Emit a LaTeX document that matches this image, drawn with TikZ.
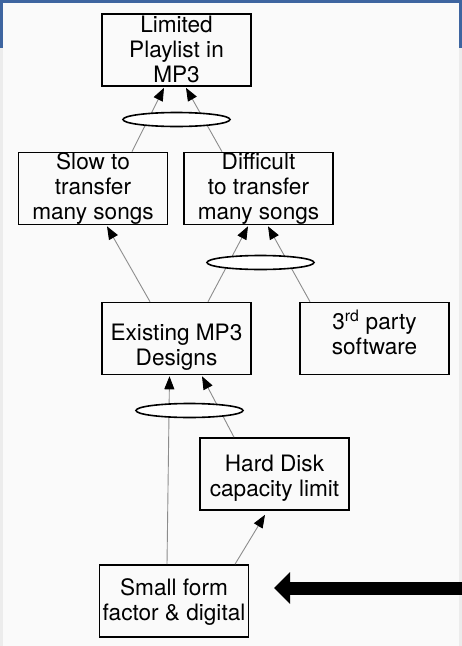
\documentclass[tikz,border=0pt]{standalone}
\usepackage{fontspec}
\setmainfont{TeX Gyre Heros}
\usetikzlibrary{shapes.geometric,calc,arrows.meta}
\definecolor{frameblue}{RGB}{62,101,160}
\definecolor{framegray}{RGB}{236,236,236}
\begin{document}
\begin{tikzpicture}[x=1pt,y=-1pt]
\tikzset{blk/.style = {draw, line width=1.6pt, minimum width=149pt, minimum height=72pt, inner sep=0pt},
  txt/.style = {align=center, inner sep=0pt, font=\fontsize{22.6}{25}\selectfont},
  andnode/.style = {draw, ellipse, fill=white, line width=1.6pt, minimum width=107pt, minimum height=14pt, inner sep=0pt},
  con/.style = {draw=black!45, line width=0.9pt, -{Triangle[length=13pt,width=10pt,color=black]}}}
\useasboundingbox (0,0) rectangle (462,646);
\fill[white!98!black] (0,0) rectangle (462,646);
\fill[framegray] (0,0) rectangle (3,646);
\fill[framegray] (459,0) rectangle (462,646);
\fill[frameblue] (0,0) rectangle (462,3);
\fill[frameblue] (0,0) rectangle (3,48);
\fill[frameblue] (459,0) rectangle (462,48);

\node[blk] (top) at (176.5,50) {};
\node[txt] (top-t) at ([yshift=1pt]top.center) {Limited\\Playlist in\\MP3};
\node[blk] (slow) at (93,188.5) {};
\node[txt] (slow-t) at (slow.center) {Slow to\\transfer\\many songs};
\node[blk] (diff) at (258.5,188.5) {};
\node[txt] (diff-t) at (diff.center) {Difficult\\to transfer\\many songs};
\node[blk] (exist) at (176.5,338.5) {};
\node[txt] (exist-t) at ([yshift=-9pt]exist.center) {Existing MP3\\Designs};
\node[blk] (third) at (374.5,338.5) {};
\node[txt] (third-t) at ([yshift=6pt]third.center) {3\textsuperscript{rd} party\\software};
\node[blk] (hard) at (274.5,474) {};
\node[txt] (hard-t) at ([yshift=-4pt]hard.center) {Hard Disk\\capacity limit};
\node[blk] (small) at (174,601) {};
\node[txt] (small-t) at ([yshift=-1pt]small.center) {Small form\\factor \& digital};

\draw[con] ([xshift=39pt]slow.north) -- ([xshift=-12.5pt,yshift=-1pt]top.south);
\draw[con] ([xshift=-36.5pt]diff.north) -- ([xshift=9.5pt,yshift=-1pt]top.south);
\draw[con] ([xshift=-26.5pt]exist.north) -- ([xshift=14pt,yshift=-1pt]slow.south);
\draw[con] ([xshift=31.5pt]exist.north) -- ([xshift=-10.5pt,yshift=-1pt]diff.south);
\draw[con] ([xshift=-64.5pt]third.north) -- ([xshift=9.5pt,yshift=-1pt]diff.south);
\draw[con] ([xshift=-7pt]small.north) -- ([xshift=-7pt,yshift=-1pt]exist.south);
\draw[con] ([xshift=-40.5pt]hard.north) -- ([xshift=25.5pt,yshift=-1pt]exist.south);
\draw[con] ([xshift=61pt]small.north) -- ([xshift=-9.5pt,yshift=-4pt]hard.south);

\node[andnode] (and1) at (176.5,119.5) {};
\node[andnode] (and2) at (260.5,262.5) {};
\node[andnode] (and3) at (189.5,410.5) {};

\coordinate (bigstart) at (462,588);
\coordinate (bigtip) at (274,588);
\draw[line width=13pt, -{Triangle[length=16pt,width=31pt]}] (bigstart) -- (bigtip);
\end{tikzpicture}
\end{document}
